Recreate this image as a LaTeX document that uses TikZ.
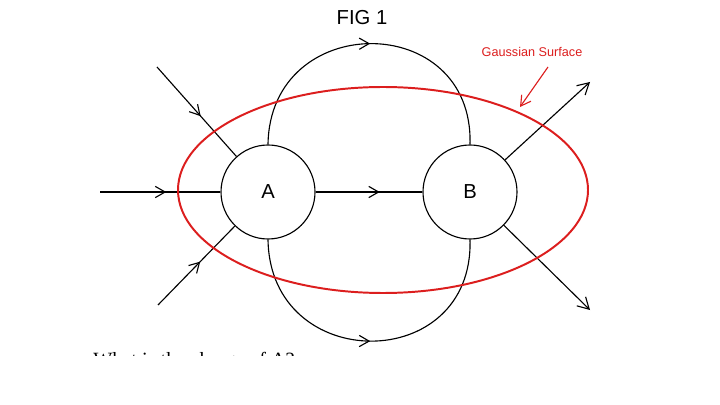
\documentclass[tikz,border=0pt]{standalone}
\usepackage{fontspec}
\setmainfont{Liberation Sans}
\newfontfamily\serifq{Liberation Serif}
\usetikzlibrary{arrows.meta,decorations.markings}
\definecolor{gaussred}{RGB}{220,30,30}
\tikzset{
  charge/.style={draw, circle, minimum size=94\unitpx, inner sep=0pt, font=\Large},
  midarrow/.style={postaction={decorate}, decoration={markings,
    mark=at position #1 with {\arrow{Straight Barb[length=7pt,width=8pt]}}}},
  outarrow/.style={thick, -{Straight Barb[length=8pt,width=9pt]}}
}
\newlength{\unitpx}\setlength{\unitpx}{0.025cm}
\begin{document}
\begin{tikzpicture}[x=0.025cm,y=-0.025cm,line width=0.8pt]
\useasboundingbox (0,0) rectangle (720,405);
% titulo
\node[font=\Large] (title) at (362,18) {FIG 1};
% cargas
\node[charge] (a) at (268,192) {A};
\node[charge] (b) at (470,192) {B};
% lineas de campo
\coordinate (l1) at (157,67);
\coordinate (l2) at (100,192);
\coordinate (l3) at (158,305);
\coordinate (r1) at (590,82);
\coordinate (r2) at (590,310);
\draw[midarrow=0.55] (l1) -- (a);
\draw[midarrow=0.55] (l2) -- (a);
\draw[midarrow=0.55] (l3) -- (a);
\draw[midarrow=0.6] (a) -- (b);
\draw[midarrow=0.5] (a.north) .. controls (270,10) and (474,10) .. (b.north);
\draw[midarrow=0.5] (a.south) .. controls (270,375) and (474,375) .. (b.south);
\draw[outarrow] (b) -- (r1);
\draw[outarrow] (b) -- (r2);
% superficie gaussiana
\draw[gaussred, line width=1.4pt] (383,190) ellipse [x radius=205, y radius=103];
\node[gaussred, font=\small] (gs) at (532,52) {Gaussian Surface};
\coordinate (gsp) at (520,107);
\draw[gaussred, thick, -{Straight Barb[length=7pt,width=8pt]}] (548,67) -- (gsp);
% pregunta (cortada)
\begin{scope}
\clip (0,0) rectangle (720,355);
\node[anchor=base west, font=\serifq\Large] (q) at (88,366) {What is the charge of A?};
\end{scope}
\end{tikzpicture}
\end{document}
